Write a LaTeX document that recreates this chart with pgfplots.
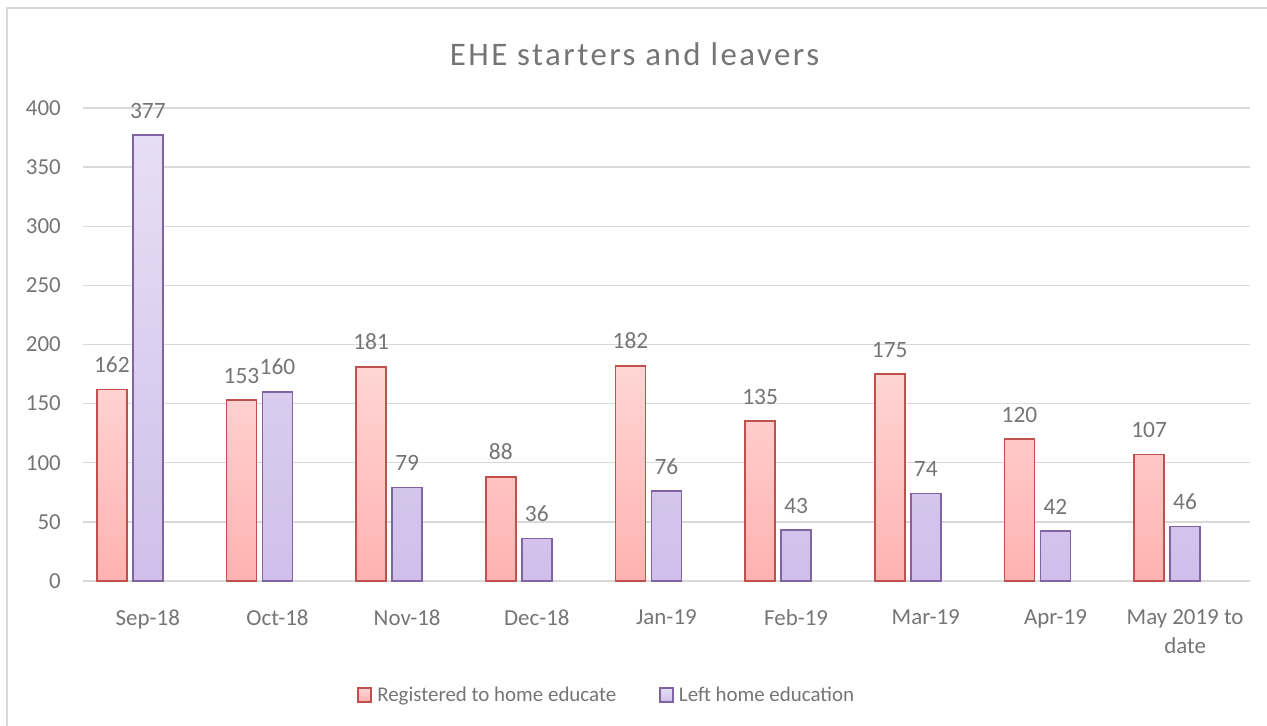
\documentclass[border=0pt]{standalone}
\usepackage{pgfplots}
\pgfplotsset{compat=1.18}
\usepackage{fontspec}
\setmainfont{Carlito}
\newfontfamily\titlefont[LetterSpace=7.5]{Carlito}
\definecolor{txtgray}{HTML}{757575}
\definecolor{gridgray}{HTML}{D9D9D9}
\definecolor{redb}{HTML}{C0504D}
\definecolor{redtop}{HTML}{FFE8E8}
\definecolor{redbot}{HTML}{FFA09E}
\definecolor{purb}{HTML}{8064A2}
\definecolor{purtop}{HTML}{F2EEF9}
\definecolor{purbot}{HTML}{C4AFE6}
\pgfdeclareverticalshading{redsh}{100bp}{color(0bp)=(redbot); color(100bp)=(redtop)}
\pgfdeclareverticalshading{pursh}{100bp}{color(0bp)=(purbot); color(100bp)=(purtop)}
\begin{document}
\begin{tikzpicture}[x=1bp,y=1bp]
\useasboundingbox (0,0) rectangle (1267,726);
\draw[gridgray, line width=1.5bp] (7,-2) -- (7,718) -- (1270,718);
\node[anchor=base, text=txtgray, font=\titlefont\fontsize{33}{38}\selectfont] at (634.5,660) {EHE starters and leavers};
\begin{axis}[
  at={(83bp,145bp)}, anchor=south west,
  scale only axis, width=1167bp, height=473bp,
  xmin=-0.5, xmax=8.5, ymin=0, ymax=400,
  enlargelimits=false, clip=false,
  axis line style={draw=none},
  tick style={draw=none},
  ymajorgrids, grid style={gridgray, line width=1.3bp},
  ytick distance=50,
  xtick={0,...,8},
  xticklabels={Sep-18,Oct-18,Nov-18,Dec-18,Jan-19,Feb-19,Mar-19,Apr-19,{May 2019 to\\date}},
  /pgf/number format/assume math mode=true,
  ticklabel style={text=txtgray, font=\fontsize{23}{29}\selectfont},
  xticklabel style={anchor=north, inner sep=0pt, yshift=-24bp, align=center},
  yticklabel style={anchor=east, inner sep=0pt, xshift=-22bp},
  ybar, bar width=30bp,
  nodes near coords,
  every node near coord/.append style={anchor=base, inner sep=0pt, yshift=17bp, text=txtgray, font=\fontsize{23.5}{28}\selectfont},
  legend columns=2,
  legend style={at={(0.448,-0.241)}, anchor=center, draw=none, fill=none,
    font=\fontsize{21}{26}\selectfont, text=txtgray,
    nodes={inner sep=0pt},
    /tikz/every odd column/.append style={column sep=5bp},
    /tikz/every even column/.append style={column sep=43bp}},
  legend image code/.code={\draw[#1, line width=1.8bp] (0bp,-7bp) rectangle (13bp,7bp);},
]
\addplot[bar shift=-36bp, draw=redb, line width=1.8bp, shading=redsh]
  coordinates {(0,162) (1,153) (2,181) (3,88) (4,182) (5,135) (6,175) (7,120) (8,107)};
\addlegendentry{Registered to home educate}
\addplot[bar shift=0bp, draw=purb, line width=1.8bp, shading=pursh]
  coordinates {(0,377) (1,160) (2,79) (3,36) (4,76) (5,43) (6,74) (7,42) (8,46)};
\addlegendentry{Left home education}
\end{axis}
\end{tikzpicture}
\end{document}
